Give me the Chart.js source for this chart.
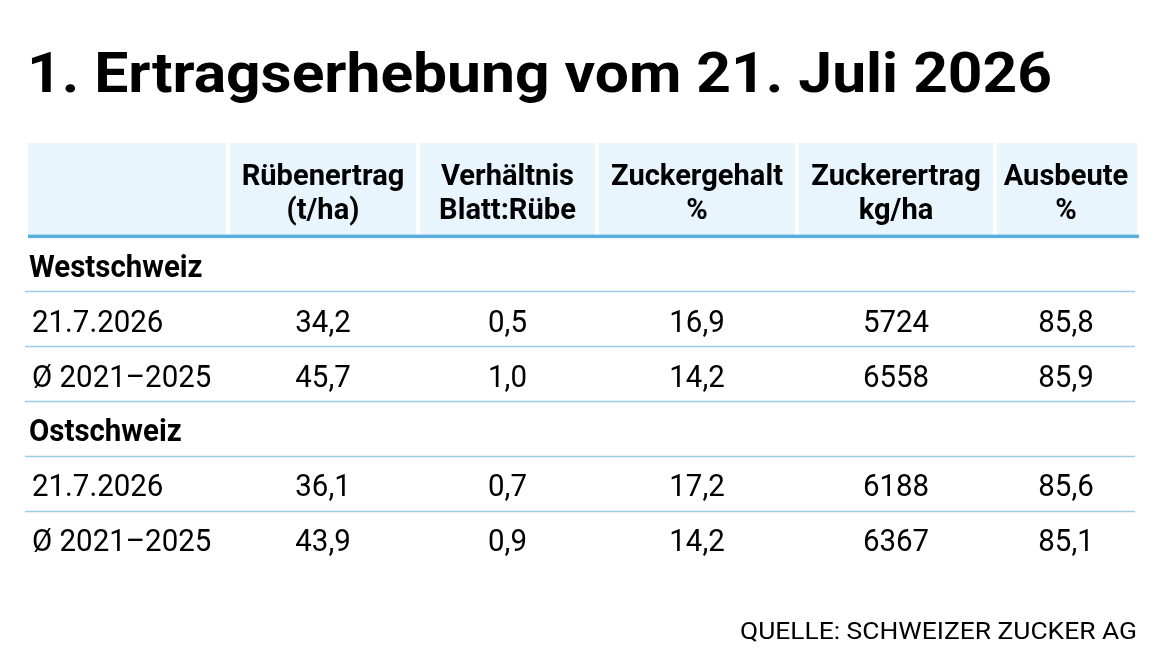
<!DOCTYPE html>
<html lang="de">
<head>
<meta charset="utf-8">
<title>1. Ertragserhebung vom 21. Juli 2026</title>
<script src="https://cdn.jsdelivr.net/npm/chart.js@4.4.1/dist/chart.umd.min.js"></script>
<style>
  html, body { margin: 0; padding: 0; background: #fff; }
</style>
</head>
<body>
<canvas id="table" width="1170" height="655"></canvas>
<script>
const title = '1. Ertragserhebung vom 21. Juli 2026';
const source = 'QUELLE: SCHWEIZER ZUCKER AG';

// column headers (two lines each) and decimals per column
const columns = [
  ['Rübenertrag', '(t/ha)'],
  ['Verhältnis', 'Blatt:Rübe'],
  ['Zuckergehalt', '%'],
  ['Zuckerertrag', 'kg/ha'],
  ['Ausbeute', '%']
];
const decimals = [1, 1, 1, 0, 1];

// rows of the table, group rows are bold and have no values
const rowLabels = ['Westschweiz', '21.7.2026', 'Ø 2021–2025', 'Ostschweiz', '21.7.2026', 'Ø 2021–2025'];
const groupRows = [0, 3];

const west2026 = [34.2, 0.5, 16.9, 5724, 85.8];
const westAvg = [45.7, 1.0, 14.2, 6558, 85.9];
const east2026 = [36.1, 0.7, 17.2, 6188, 85.6];
const eastAvg = [43.9, 0.9, 14.2, 6367, 85.1];

// layout only: widths of the table columns, the first is the label column
const colWidths = [200, 190, 179, 200, 198, 142];
const edges = colWidths.reduce((acc, w) => acc.concat(acc[acc.length - 1] + w), [0]);
const colCentre = i => (edges[i + 1] + edges[i + 2]) / 2;

const fmt = (v, d) => v.toFixed(d).replace('.', ',');

// draw text scaled horizontally (the original face is a condensed grotesk);
// pass either a factor or a target width
function squeezed(ctx, s, x, y, factor, targetW) {
  const w = ctx.measureText(s).width;
  const sx = targetW ? targetW / w : factor;
  ctx.save();
  ctx.translate(x, y);
  ctx.scale(sx, 1);
  ctx.fillText(s, 0, 0);
  ctx.restore();
}

const BODY = '31px Roboto';
const BOLD = 'bold 31px Roboto';
const SQ = 0.95;

const tablePlugin = {
  id: 'table',
  beforeDraw(chart) {
    const { ctx, chartArea: a, scales: { x, y } } = chart;
    ctx.save();
    ctx.fillStyle = '#fff';
    ctx.fillRect(0, 0, chart.width, chart.height);

    // title
    ctx.fillStyle = '#000';
    ctx.textAlign = 'left';
    ctx.textBaseline = 'alphabetic';
    ctx.font = 'bold 56px Roboto';
    squeezed(ctx, title, 27, 92, 1, 1025);

    // header band with white column gaps
    const bandTop = a.top - 95.5;
    const bandBottom = a.top - 3;
    ctx.fillStyle = '#e8f5fc';
    ctx.fillRect(a.left, bandTop, a.right - a.left, bandBottom - bandTop);
    ctx.fillStyle = '#fff';
    edges.slice(1, -1).forEach(e => {
      ctx.fillRect(x.getPixelForValue(e) - 2, bandTop, 4, bandBottom - bandTop);
    });
    ctx.fillStyle = '#5aaedc';
    ctx.fillRect(a.left, a.top - 4, a.right - a.left + 2, 3.5);

    // header text
    ctx.fillStyle = '#000';
    ctx.textAlign = 'center';
    ctx.font = 'bold 30px Roboto';
    columns.forEach((lines, i) => {
      const cx = x.getPixelForValue(colCentre(i));
      squeezed(ctx, lines[0], cx, a.top - 54, 0.97);
      squeezed(ctx, lines[1], cx, a.top - 20, 0.97);
    });

    // row separators
    ctx.strokeStyle = '#9fcbe4';
    ctx.lineWidth = 1.5;
    for (let r = 0; r < rowLabels.length - 1; r++) {
      const py = Math.round(y.getPixelForValue(r + 0.5)) - 1.5;
      ctx.beginPath();
      ctx.moveTo(a.left - 3, py);
      ctx.lineTo(a.right - 2, py);
      ctx.stroke();
    }

    // row labels
    ctx.textAlign = 'left';
    rowLabels.forEach((label, r) => {
      const group = groupRows.includes(r);
      ctx.font = group ? BOLD : BODY;
      squeezed(ctx, label, a.left + (group ? 1 : 4), y.getPixelForValue(r) + 11, group ? 0.95 : SQ);
    });

    // source
    ctx.font = '24px Roboto';
    ctx.textAlign = 'right';
    squeezed(ctx, source, a.right, 639, 1, 397);
    ctx.restore();
  },
  afterDatasetsDraw(chart) {
    const { ctx } = chart;
    ctx.save();
    ctx.fillStyle = '#000';
    ctx.font = BODY;
    ctx.textAlign = 'center';
    ctx.textBaseline = 'alphabetic';
    chart.data.datasets.forEach((ds, di) => {
      chart.getDatasetMeta(di).data.forEach((pt, i) => {
        squeezed(ctx, fmt(ds.values[i], decimals[i]), pt.x, pt.y + 11, SQ);
      });
    });
    ctx.restore();
  }
};

const series = [
  { values: west2026, row: 1 },
  { values: westAvg, row: 2 },
  { values: east2026, row: 4 },
  { values: eastAvg, row: 5 }
];

new Chart(document.getElementById('table'), {
  type: 'scatter',
  data: {
    datasets: series.map(s => ({
      values: s.values,
      data: s.values.map((v, i) => ({ x: colCentre(i), y: s.row })),
      pointRadius: 0,
      pointHoverRadius: 0
    }))
  },
  options: {
    responsive: false,
    animation: false,
    events: [],
    layout: { padding: { left: 28, right: 33, top: 238.6, bottom: 87.6 } },
    scales: {
      x: { type: 'linear', min: 0, max: edges[edges.length - 1], display: false },
      y: { type: 'linear', min: -0.5, max: rowLabels.length - 0.5, reverse: true, display: false }
    },
    plugins: { legend: { display: false }, tooltip: { enabled: false } }
  },
  plugins: [tablePlugin]
});
</script>
</body>
</html>
